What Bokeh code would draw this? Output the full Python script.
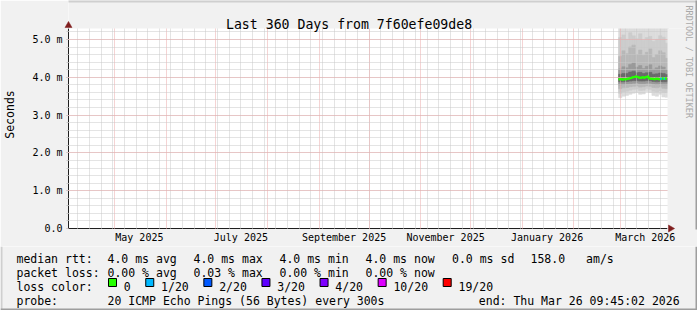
from datetime import datetime
import math

from bokeh.plotting import figure
from bokeh.layouts import column
from bokeh.models import Range1d, FixedTicker, Arrow, DatetimeTickFormatter
from bokeh.core.properties import value
from bokeh.embed import file_html
from bokeh.resources import INLINE

FONT = "DejaVu Sans Mono"

# ---------------- data ----------------
title_text = "Last 360 Days from 7f60efe09de8"
y_axis_title = "Seconds"
watermark = "RRDTOOL / TOBI OETIKER"

axis_start = datetime(2025, 4, 3, 9, 45, 2)
axis_end = datetime(2026, 3, 29, 9, 45, 2)
y_top = 5.29  # ms

month_starts = ["2025-05-01", "2025-06-01", "2025-07-01", "2025-08-01", "2025-09-01",
                "2025-10-01", "2025-11-01", "2025-12-01", "2026-01-01", "2026-02-01",
                "2026-03-01"]
label_months = ["2025-05-01", "2025-07-01", "2025-09-01", "2025-11-01", "2026-01-01",
                "2026-03-01"]
first_week_line = "2025-04-09"

y_ticks = [0, 1, 2, 3, 4, 5]
y_tick_labels = ["0.0", "1.0 m", "2.0 m", "3.0 m", "4.0 m", "5.0 m"]
y_minor_step = 0.2

# smoke: 2-day columns, band edges (ms), outer band first
smoke_cols = ["2026-02-28", "2026-03-02", "2026-03-04", "2026-03-06", "2026-03-08",
              "2026-03-10", "2026-03-12", "2026-03-14", "2026-03-16", "2026-03-18",
              "2026-03-20", "2026-03-22", "2026-03-24", "2026-03-26", "2026-03-28"]
band1_top = [5.45, 5.60, 5.50, 5.70, 5.60, 5.50, 5.65, 5.60, 5.50, 5.55, 5.60, 5.50, 5.45, 5.50, 5.30]
band1_bot = [3.46, 3.50, 3.52, 3.55, 3.58, 3.60, 3.55, 3.56, 3.62, 3.60, 3.52, 3.50, 3.55, 3.48, 3.47]
band2_top = [5.05, 5.12, 5.00, 5.18, 5.10, 5.02, 5.15, 4.98, 5.05, 5.08, 4.95, 5.00, 5.10, 5.06, 4.90]
band2_bot = [3.58, 3.62, 3.63, 3.66, 3.68, 3.69, 3.65, 3.66, 3.70, 3.68, 3.63, 3.61, 3.64, 3.60, 3.60]
band3_top = [4.55, 4.70, 4.62, 4.80, 4.85, 4.60, 4.72, 4.58, 4.66, 4.75, 4.52, 4.60, 4.70, 4.65, 4.50]
band3_bot = [3.70, 3.72, 3.73, 3.75, 3.76, 3.77, 3.74, 3.75, 3.77, 3.76, 3.73, 3.72, 3.74, 3.71, 3.70]
band4_top = [4.22, 4.28, 4.25, 4.34, 4.38, 4.27, 4.31, 4.23, 4.29, 4.33, 4.21, 4.25, 4.30, 4.27, 4.20]
band4_bot = [3.80, 3.81, 3.82, 3.83, 3.84, 3.85, 3.83, 3.83, 3.84, 3.84, 3.82, 3.81, 3.82, 3.80, 3.80]
band5_top = [4.08, 4.10, 4.10, 4.14, 4.16, 4.12, 4.13, 4.10, 4.12, 4.13, 4.08, 4.09, 4.11, 4.10, 4.07]
band5_bot = [3.88, 3.88, 3.89, 3.90, 3.91, 3.91, 3.90, 3.90, 3.91, 3.91, 3.89, 3.88, 3.89, 3.88, 3.88]
band_colors = ["#dcdcdc", "#cdcdcd", "#b8b8b8", "#9a9a9a", "#6a6a6a"]

# median rtt per day (ms) and lost pings per day (of 20)
median_first_day = "2026-02-28"
median_rtt = [3.95, 3.95, 3.94, 3.95, 3.95, 3.96, 3.97, 3.98, 4.00, 4.01,
              4.02, 4.01, 3.99, 3.99, 4.00, 3.99, 4.01, 4.02, 3.97, 3.96,
              3.96, 3.95, 3.96, 3.96, 3.95, 3.96, 3.97, 3.96, 3.97]
lost_pings = [0, 0, 0, 0, 0, 0, 0, 0, 0, 0,
              0, 0, 0, 0, 0, 0, 0, 0, 0, 0,
              0, 0, 0, 0, 0, 1, 0, 1, 0]

loss_thresholds = [0, 1, 2, 3, 4, 10, 19]
loss_labels = ["0", "1/20", "2/20", "3/20", "4/20", "10/20", "19/20"]
loss_colors = ["#26ff00", "#00b8ff", "#0059ff", "#5e00ff", "#7e00ff", "#dd00ff", "#ff0000"]

rtt_stats = ["4.0 ms avg", "4.0 ms max", "4.0 ms min", "4.0 ms now", "0.0 ms sd", "158.0", "am/s"]
loss_stats = ["0.00 % avg", "0.03 % max", "0.00 % min", "0.00 % now"]
probe_text = "20 ICMP Echo Pings (56 Bytes) every 300s"
end_text = "end: Thu Mar 26 09:45:02 2026"

# ---------------- helpers ----------------
EPOCH = datetime(1970, 1, 1)
DAY = 86400000.0


def ms(d):
    if isinstance(d, str):
        d = datetime.strptime(d, "%Y-%m-%d")
    return (d - EPOCH).total_seconds() * 1000.0


W, H = 697, 310
FL, FR, FT, FB = 67, 667, 28, 228          # chart canvas edges on the page
SPLIT = 246                                  # main chart / legend strip boundary
px_ms = (ms(axis_end) - ms(axis_start)) / (FR - FL)
px_y = y_top / (FB - FT)
x0 = ms(axis_start)
x_frame_end = x0 + (W - FL) * px_ms          # frame reaches the right page edge
y_frame_top = FB * px_y                      # frame reaches the top page edge


def cx(px):   # page pixel column -> x data value
    return x0 + (px - FL) * px_ms


def cy(py):   # page pixel row -> y data value
    return (FB - py) * px_y


BACK = "#f1f1f1"
GRID = "#c8c8c8"
MGRID = "#eaa8a8"
AXIS = "#1f1f1f"
ARROW = "#801f1f"
SHADE_A = "#cfcfcf"
SHADE_B = "#9e9e9e"

# ================= main chart =================
p = figure(width=W, height=SPLIT, output_backend="svg", toolbar_location=None,
           title_location=None, x_axis_type="datetime",
           x_range=Range1d(x0, x_frame_end), y_range=Range1d(0, y_frame_top),
           min_border_left=FL, min_border_right=0,
           min_border_top=0, min_border_bottom=SPLIT - FB)
p.frame_align = False
p.background_fill_color = "#ffffff"
p.border_fill_color = BACK
p.outline_line_color = None

# ---- grids ----
week_ticks = []
wk = ms(first_week_line)
while wk < ms(axis_end):
    week_ticks.append(wk)
    wk += 7 * DAY
p.xgrid.ticker = FixedTicker(ticks=[ms(m) for m in month_starts], minor_ticks=week_ticks)
y_minor = [round(i * y_minor_step, 6) for i in range(int(y_top / y_minor_step) + 1)]
p.yaxis.ticker = FixedTicker(ticks=y_ticks, minor_ticks=y_minor)
for g in (p.xgrid, p.ygrid):
    g.grid_line_color = MGRID
    g.grid_line_dash = "1 1"
    g.grid_line_width = 1
    g.minor_grid_line_color = GRID
    g.minor_grid_line_dash = "1 1"
    g.minor_grid_line_width = 1
    g.level = "guide"

# ---- axes ----
p.xaxis.bounds = (x0, ms(axis_end))
p.yaxis.bounds = (0, y_top)
p.xaxis.ticker = FixedTicker(ticks=[ms(m) + 15 * DAY for m in label_months])
p.xaxis.formatter = DatetimeTickFormatter(months="%B %Y", days="%B %Y", years="%B %Y",
                                          hours="%B %Y")
p.xaxis.major_tick_out = 0
p.xaxis.major_tick_in = 0
p.xaxis.minor_tick_out = 0
p.xaxis.major_label_standoff = 3

p.yaxis.major_label_overrides = {t: s for t, s in zip(y_ticks, y_tick_labels)}
p.yaxis.major_tick_out = 2
p.yaxis.major_tick_in = 0
p.yaxis.minor_tick_out = 2
p.yaxis.minor_tick_in = 0
p.yaxis.major_tick_line_color = MGRID
p.yaxis.minor_tick_line_color = GRID
p.yaxis.major_label_standoff = 4
p.yaxis.axis_label = y_axis_title
p.yaxis.axis_label_standoff = 12
p.yaxis.axis_label_text_font = FONT
p.yaxis.axis_label_text_font_size = "11.5px"
p.yaxis.axis_label_text_font_style = "normal"
p.yaxis.axis_label_text_color = "#000000"
for ax in (p.xaxis, p.yaxis):
    ax.axis_line_color = AXIS
    ax.major_label_text_font = FONT
    ax.major_label_text_font_size = "10px"
    ax.major_label_text_color = "#000000"

# ---- smoke ----
col_left = [ms(d) for d in smoke_cols]
col_right = [v + 2 * DAY for v in col_left]
bands = [(band1_bot, band1_top), (band2_bot, band2_top), (band3_bot, band3_top),
         (band4_bot, band4_top), (band5_bot, band5_top)]
for (bot, top), col in zip(bands, band_colors):
    p.quad(left=col_left, right=col_right, bottom=bot, top=top,
           fill_color=col, line_color=col, line_width=0.6)


# ---- median line, coloured by loss ----
def loss_color(n):
    c = loss_colors[0]
    for t, col in zip(loss_thresholds, loss_colors):
        if n >= t:
            c = col
    return c


d0 = ms(median_first_day)
mx0 = [d0 + i * DAY for i in range(len(median_rtt))]
mx1 = [v + DAY for v in mx0]
step_r = p.step(x=mx0 + [mx1[-1]], y=median_rtt + [median_rtt[-1]], mode="after",
                line_color=loss_colors[0], line_width=2)
step_r.level = "overlay"
seg_r = p.segment(x0=mx0, y0=median_rtt, x1=mx1, y1=median_rtt,
                  line_color=[loss_color(n) for n in lost_pings], line_width=2,
                  line_cap="butt")
seg_r.level = "overlay"

# ---- page background above and right of the chart canvas ----
strips = p.quad(left=[x0, ms(axis_end)], right=[x_frame_end, x_frame_end],
                bottom=[y_top, cy(FB + 1)], top=[y_frame_top, y_top],
                fill_color=BACK, line_color=None)
strips.level = "overlay"
shades = p.quad(left=[x0, cx(W - 2)], right=[x_frame_end, x_frame_end],
                bottom=[cy(2), cy(FB + 1)], top=[y_frame_top, y_frame_top],
                fill_color=[SHADE_A, SHADE_B], line_color=None)
shades.level = "overlay"

# ---- title and watermark ----
t1 = p.text(x=[cx(348)], y=[cy(24)], text=[title_text], text_font=value(FONT),
            text_font_size=value("13.2px"), text_color="#000000",
            text_align="center", text_baseline="alphabetic")
t1.level = "overlay"
t2 = p.text(x=[cx(688)], y=[cy(5)], text=[watermark], text_font=value(FONT),
            text_font_size=value("8.5px"), text_color="#a9a9a9", angle=-math.pi / 2,
            text_align="left", text_baseline="middle")
t2.level = "overlay"

# ---- arrow heads ----
up = p.scatter(x=[x0], y=[cy(25)], marker="triangle", size=7,
               fill_color=ARROW, line_color=ARROW, line_width=0.5)
rt = p.scatter(x=[cx(670)], y=[0], marker="triangle", size=7, angle=-math.pi / 2,
               fill_color=ARROW, line_color=ARROW, line_width=0.5)
up.level = "overlay"
rt.level = "overlay"

# short axis stubs past the origin
p.add_layout(Arrow(x_start=cx(FL - 4), y_start=0, x_end=x0, y_end=0,
                   line_color=AXIS, line_width=1, end=None))
p.add_layout(Arrow(x_start=x0, y_start=cy(FB + 3), x_end=x0, y_end=0,
                   line_color=AXIS, line_width=1, end=None))

# ================= legend strip =================
q = figure(width=W, height=H - SPLIT, output_backend="svg", toolbar_location=None,
           title_location=None,
           x_range=Range1d(0, W), y_range=Range1d(H, SPLIT),
           x_axis_location=None, y_axis_location=None,
           min_border=0, min_border_left=0, min_border_right=0,
           min_border_top=0, min_border_bottom=0)
q.frame_align = False
q.background_fill_color = BACK
q.border_fill_color = BACK
q.outline_line_color = None
q.grid.visible = False

rows = [258, 272, 286, 300]
CH = 6.95  # character advance of the 11.5px monospace font


def put(xs, ys, texts):
    q.text(x=xs, y=ys, text=texts, text_font=value(FONT), text_font_size=value("11.5px"),
           text_color="#000000", text_baseline="alphabetic", text_align="left")


put([16] + [107, 193, 279, 365, 451.5, 530, 530 + 8 * CH], [rows[0]] * 8,
    ["median rtt:"] + rtt_stats)
put([16] + [107, 193, 279, 365], [rows[1]] * 5, ["packet loss:"] + loss_stats)
put([16, 107, 478.3], [rows[3]] * 3, ["probe:", probe_text, end_text])

# loss colour key
sq_left, lab_x = [], []
x = 108.0
for lab in loss_labels:
    sq_left.append(x)
    lab_x.append(x + 15.3)
    x = x + 15.3 + len(lab) * CH + 15.0
put([16] + lab_x, [rows[2]] * (len(loss_labels) + 1), ["loss color:"] + loss_labels)
q.quad(left=sq_left, right=[v + 8 for v in sq_left], top=[278] * len(sq_left),
       bottom=[286] * len(sq_left), fill_color=loss_colors, line_color="#000000",
       line_width=1)

# page shade on the strip's edges
q.quad(left=[0, W - 2, 0], right=[2, W, W], top=[SPLIT, SPLIT, H - 2], bottom=[H, H, H],
       fill_color=[SHADE_A, SHADE_B, SHADE_B], line_color=None)

layout = column(p, q, spacing=0)
open("out.html", "w").write(file_html(layout, INLINE))
